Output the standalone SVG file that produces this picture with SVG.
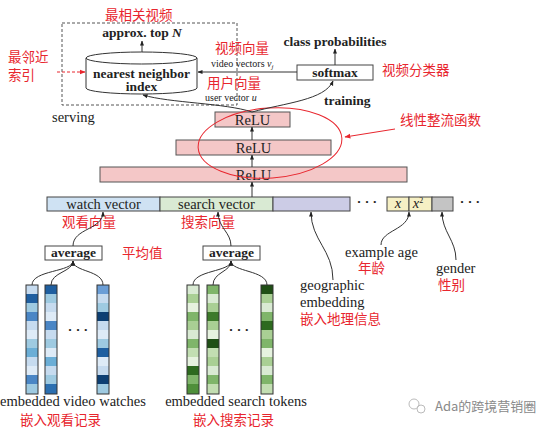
<svg xmlns="http://www.w3.org/2000/svg" width="554" height="431" viewBox="0 0 554 431">
<style>
.t{font-family:"Liberation Serif",serif;font-size:14.5px;fill:#222;}
.b{font-family:"Liberation Serif",serif;font-size:13.5px;font-weight:bold;fill:#222;}
.s{font-family:"Liberation Serif",serif;font-size:10px;fill:#222;}
.r{font-family:"Noto Sans CJK SC",sans-serif;font-size:13.5px;fill:#e8262e;}
.box{stroke:#444;stroke-width:1;}
.relu{fill:#f4c7c7;stroke:#555;stroke-width:1;}
.ln{fill:none;stroke:#333;stroke-width:1;}
.col{stroke:#333;stroke-width:1;fill:none;}
</style>
<defs>
<marker id="ah" viewBox="0 0 10 10" refX="9" refY="5" markerWidth="5" markerHeight="5" orient="auto"><path d="M0,1 L10,5 L0,9 z" fill="#222"/></marker>
<marker id="ahr" viewBox="0 0 10 10" refX="9" refY="5" markerWidth="6" markerHeight="6" orient="auto"><path d="M0,1 L10,5 L0,9 z" fill="#e8262e"/></marker>
</defs>
<rect width="554" height="431" fill="#fff"/>

<g id="serving">
<rect x="62" y="23" width="175" height="82" fill="none" stroke="#555" stroke-dasharray="3,2"/>
<text class="t" x="52" y="122">serving</text>
<text class="r" x="105" y="20">最相关视频</text>
<text class="b" x="142" y="37" text-anchor="middle">approx. top <tspan font-style="italic">N</tspan></text>
</g>

<g id="nn-index">
<path d="M86,58 L86,88 A55.5,6 0 0 0 197,88 L197,58" fill="#fff" stroke="#333"/>
<ellipse cx="141.5" cy="58" rx="55.5" ry="6" fill="#fff" stroke="#333"/>
<text class="b" x="141.5" y="78" text-anchor="middle">nearest neighbor</text>
<text class="b" x="141.5" y="91" text-anchor="middle">index</text>
<text class="r" x="8" y="62" font-size="13">最邻近</text>
<text class="r" x="8" y="80" font-size="13">索引</text>
</g>

<g id="softmax">
<rect x="297" y="65" width="76" height="15" fill="#fff" class="box"/>
<text class="b" x="335" y="77" text-anchor="middle">softmax</text>
<text class="b" x="335" y="46" text-anchor="middle" font-size="14">class probabilities</text>
<text class="r" x="382" y="75">视频分类器</text>
<text class="b" x="324" y="105">training</text>
</g>

<g id="vec-labels">
<text class="r" x="215" y="53">视频向量</text>
<text class="s" x="211" y="67">video vectors <tspan font-style="italic">v</tspan><tspan font-style="italic" font-size="7" dy="2">j</tspan></text>
<text class="r" x="207" y="88">用户向量</text>
<text class="s" x="205" y="101">user vector <tspan font-style="italic">u</tspan></text>
</g>

<g id="relu-layers">
<rect x="215" y="112" width="75" height="15" class="relu"/>
<text class="t" x="252.5" y="124.5" text-anchor="middle">ReLU</text>
<rect x="176" y="140" width="155" height="15" class="relu"/>
<text class="t" x="253.5" y="152.5" text-anchor="middle">ReLU</text>
<rect x="100" y="167" width="307" height="15" class="relu"/>
<text class="t" x="253.5" y="179.5" text-anchor="middle">ReLU</text>
<ellipse cx="270" cy="143" rx="72" ry="35" fill="none" stroke="#e8262e" stroke-width="1" transform="rotate(-4 270 143)"/>
<text class="r" x="400" y="125">线性整流函数</text>
</g>

<g id="feature-bar">
<rect x="47" y="197" width="113" height="14" fill="#cfe2f3" class="box"/>
<text class="t" x="103.5" y="208.5" text-anchor="middle">watch vector</text>
<rect x="160" y="197" width="113" height="14" fill="#d9ead3" class="box"/>
<text class="t" x="216.5" y="208.5" text-anchor="middle">search vector</text>
<rect x="273" y="197" width="77" height="14" fill="#cccce6" class="box"/>
<text class="b" x="367" y="206" text-anchor="middle">· · ·</text>
<rect x="387" y="197" width="22" height="14" fill="#f6f0c4" class="box"/>
<text class="t" x="398" y="208" text-anchor="middle" font-style="italic" font-size="13">x</text>
<rect x="409" y="197" width="23" height="14" fill="#f6f0c4" class="box"/>
<text class="t" x="418" y="208" text-anchor="middle" font-style="italic" font-size="13">x<tspan font-size="8" dy="-5" font-style="normal">2</tspan></text>
<rect x="432" y="197" width="21" height="14" fill="#c4c4c4" class="box"/>
<text class="b" x="470" y="206" text-anchor="middle">· · ·</text>
<text class="r" x="62" y="227">观看向量</text>
<text class="r" x="181" y="227">搜索向量</text>
</g>

<g id="average-left">
<rect x="45" y="246" width="57" height="14" fill="#fff" class="box"/>
<text class="b" x="73.5" y="257" text-anchor="middle">average</text>
<text class="r" x="122" y="258">平均值</text>
</g>
<g id="average-right">
<rect x="203" y="246" width="57" height="14" fill="#fff" class="box"/>
<text class="b" x="231.5" y="257" text-anchor="middle">average</text>
</g>

<g id="watch-embeddings">
<g transform="translate(26,285)">
<rect y="0" width="12" height="9" fill="#c6dbef"/><rect y="9" width="12" height="9" fill="#1f5fa0"/><rect y="18" width="12" height="9" fill="#9ecae1"/><rect y="27" width="12" height="9" fill="#4a86c5"/><rect y="36" width="12" height="9" fill="#c6dbef"/><rect y="45" width="12" height="9" fill="#deebf7"/><rect y="54" width="12" height="9" fill="#9ecae1"/><rect y="63" width="12" height="9" fill="#6baed6"/><rect y="72" width="12" height="9" fill="#c6dbef"/><rect y="81" width="12" height="9" fill="#deebf7"/><rect y="90" width="12" height="9" fill="#4a86c5"/><rect y="99" width="12" height="10" fill="#9ecae1"/>
<rect width="12" height="109" class="col"/>
</g>
<g transform="translate(45,285)">
<rect y="0" width="12" height="9" fill="#1f5fa0"/><rect y="9" width="12" height="9" fill="#9ecae1"/><rect y="18" width="12" height="9" fill="#c6dbef"/><rect y="27" width="12" height="9" fill="#deebf7"/><rect y="36" width="12" height="9" fill="#4a86c5"/><rect y="45" width="12" height="9" fill="#c6dbef"/><rect y="54" width="12" height="9" fill="#9ecae1"/><rect y="63" width="12" height="9" fill="#deebf7"/><rect y="72" width="12" height="9" fill="#6baed6"/><rect y="81" width="12" height="9" fill="#c6dbef"/><rect y="90" width="12" height="9" fill="#9ecae1"/><rect y="99" width="12" height="10" fill="#2c6fb0"/>
<rect width="12" height="109" class="col"/>
</g>
<g transform="translate(97,285)">
<rect y="0" width="12" height="9" fill="#6b9ed6"/><rect y="9" width="12" height="9" fill="#c6dbef"/><rect y="18" width="12" height="9" fill="#9ecae1"/><rect y="27" width="12" height="9" fill="#0d3f73"/><rect y="36" width="12" height="9" fill="#c6dbef"/><rect y="45" width="12" height="9" fill="#deebf7"/><rect y="54" width="12" height="9" fill="#9ecae1"/><rect y="63" width="12" height="9" fill="#1f5fa0"/><rect y="72" width="12" height="9" fill="#deebf7"/><rect y="81" width="12" height="9" fill="#c6dbef"/><rect y="90" width="12" height="9" fill="#0d3f73"/><rect y="99" width="12" height="10" fill="#9ecae1"/>
<rect width="12" height="109" class="col"/>
</g>
<text class="b" x="78" y="334" text-anchor="middle">·  ·  ·</text>
<text class="t" x="73" y="406" text-anchor="middle" font-size="14">embedded video watches</text>
<text class="r" x="20" y="425" font-size="13">嵌入观看记录</text>
</g>

<g id="search-embeddings">
<g transform="translate(187,285)">
<rect y="0" width="12" height="9" fill="#d9ead3"/><rect y="9" width="12" height="9" fill="#a9cf94"/><rect y="18" width="12" height="9" fill="#e6f2df"/><rect y="27" width="12" height="9" fill="#7fb56a"/><rect y="36" width="12" height="9" fill="#a9cf94"/><rect y="45" width="12" height="9" fill="#d9ead3"/><rect y="54" width="12" height="9" fill="#7fb56a"/><rect y="63" width="12" height="9" fill="#c2deb2"/><rect y="72" width="12" height="9" fill="#e6f2df"/><rect y="81" width="12" height="9" fill="#2d6a1f"/><rect y="90" width="12" height="9" fill="#7fb56a"/><rect y="99" width="12" height="10" fill="#4f8f3a"/>
<rect width="12" height="109" class="col"/>
</g>
<g transform="translate(207,285)">
<rect y="0" width="12" height="9" fill="#7fb56a"/><rect y="9" width="12" height="9" fill="#d9ead3"/><rect y="18" width="12" height="9" fill="#a9cf94"/><rect y="27" width="12" height="9" fill="#3d7a2a"/><rect y="36" width="12" height="9" fill="#a9cf94"/><rect y="45" width="12" height="9" fill="#e6f2df"/><rect y="54" width="12" height="9" fill="#1f4f15"/><rect y="63" width="12" height="9" fill="#c2deb2"/><rect y="72" width="12" height="9" fill="#a9cf94"/><rect y="81" width="12" height="9" fill="#d9ead3"/><rect y="90" width="12" height="9" fill="#7fb56a"/><rect y="99" width="12" height="10" fill="#c2deb2"/>
<rect width="12" height="109" class="col"/>
</g>
<g transform="translate(261,285)">
<rect y="0" width="12" height="9" fill="#1f4f15"/><rect y="9" width="12" height="9" fill="#a9cf94"/><rect y="18" width="12" height="9" fill="#d9ead3"/><rect y="27" width="12" height="9" fill="#7fb56a"/><rect y="36" width="12" height="9" fill="#2d6a1f"/><rect y="45" width="12" height="9" fill="#a9cf94"/><rect y="54" width="12" height="9" fill="#7fb56a"/><rect y="63" width="12" height="9" fill="#e6f2df"/><rect y="72" width="12" height="9" fill="#a9cf94"/><rect y="81" width="12" height="9" fill="#d9ead3"/><rect y="90" width="12" height="9" fill="#7fb56a"/><rect y="99" width="12" height="10" fill="#c2deb2"/>
<rect width="12" height="109" class="col"/>
</g>
<text class="b" x="239" y="334" text-anchor="middle">·  ·  ·</text>
<text class="t" x="236" y="406" text-anchor="middle" font-size="14">embedded search tokens</text>
<text class="r" x="193" y="425" font-size="13">嵌入搜索记录</text>
</g>

<g id="geo-label">
<text class="t" x="300" y="290">geographic</text>
<text class="t" x="300" y="307">embedding</text>
<text class="r" x="300" y="324">嵌入地理信息</text>
</g>
<g id="age-label">
<text class="t" x="345" y="257">example age</text>
<text class="r" x="358" y="273">年龄</text>
</g>
<g id="gender-label">
<text class="t" x="436" y="273">gender</text>
<text class="r" x="438" y="290">性别</text>
</g>

<g id="watermark">
<circle cx="414" cy="404" r="5" fill="none" stroke="#bbb"/>
<circle cx="421" cy="409" r="4" fill="none" stroke="#bbb"/>
<text x="435" y="411" font-family="'Noto Sans CJK SC',sans-serif" font-size="13" fill="#8a8a8a">Ada的跨境营销圈</text>
</g>

<g id="connectors">
<line x1="142" y1="52" x2="142" y2="41" class="ln" marker-end="url(#ah)"/>
<line x1="57" y1="72" x2="85" y2="72" fill="none" stroke="#e8262e" stroke-dasharray="3,2" marker-end="url(#ahr)"/>
<line x1="297" y1="72" x2="198" y2="72" class="ln" marker-end="url(#ah)"/>
<line x1="335" y1="65" x2="335" y2="49" class="ln" marker-end="url(#ah)"/>
<path d="M252,112 C225,103 170,103 143,95" class="ln" marker-end="url(#ah)"/>
<path d="M252,112 C285,103 325,100 333,81" class="ln" marker-end="url(#ah)"/>
<line x1="252" y1="140" x2="252" y2="127" class="ln" marker-end="url(#ah)"/>
<line x1="252" y1="167" x2="252" y2="155" class="ln" marker-end="url(#ah)"/>
<line x1="252" y1="197" x2="252" y2="182" class="ln" marker-end="url(#ah)"/>
<path d="M73,246 C73,228 103,230 103,212" class="ln" marker-end="url(#ah)"/>
<path d="M231,246 C231,232 218,228 218,212" class="ln" marker-end="url(#ah)"/>
<path d="M32,285 C32,270 73,272 73,261" class="ln" marker-end="url(#ah)"/>
<path d="M51,285 C51,272 73,272 73,261" class="ln" marker-end="url(#ah)"/>
<path d="M103,285 C103,270 73,272 73,261" class="ln" marker-end="url(#ah)"/>
<path d="M193,285 C193,270 231,272 231,261" class="ln" marker-end="url(#ah)"/>
<path d="M213,285 C213,272 231,272 231,261" class="ln" marker-end="url(#ah)"/>
<path d="M267,285 C267,270 231,272 231,261" class="ln" marker-end="url(#ah)"/>
<path d="M333,280 C333,250 311,240 311,212" class="ln" marker-end="url(#ah)"/>
<path d="M381,245 C381,230 409,230 409,212" class="ln" marker-end="url(#ah)"/>
<path d="M456,260 C456,240 442,232 442,212" class="ln" marker-end="url(#ah)"/>
<line x1="395" y1="129" x2="345" y2="137" fill="none" stroke="#e8262e" marker-end="url(#ahr)"/>
</g>
</svg>
